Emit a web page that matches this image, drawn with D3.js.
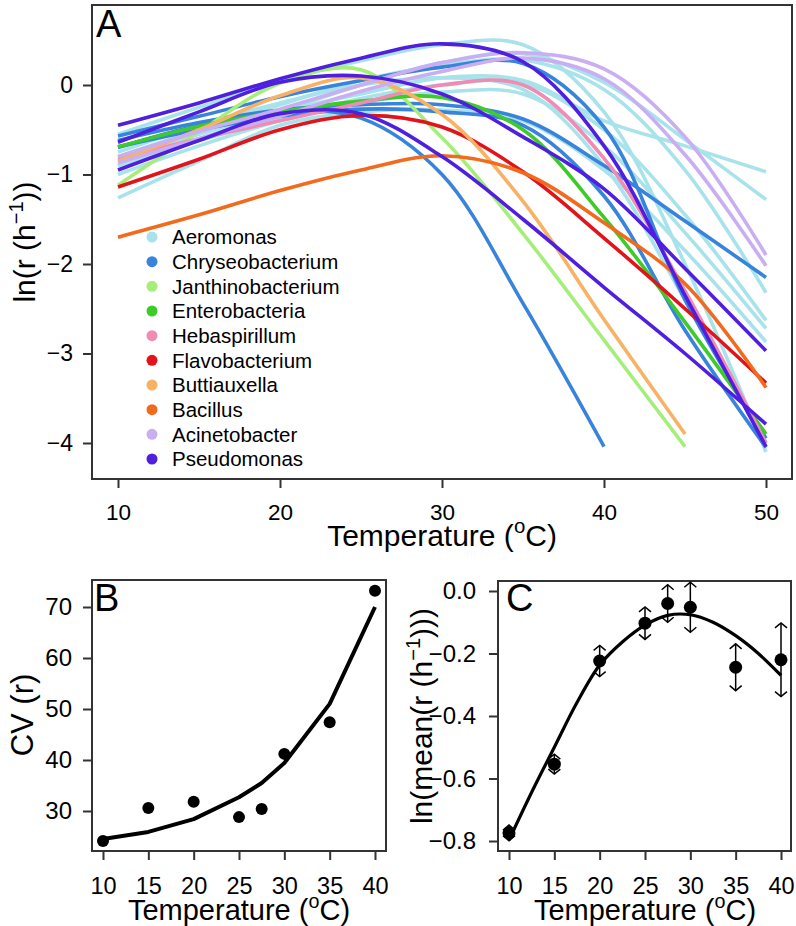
<!DOCTYPE html>
<html><head><meta charset="utf-8">
<script src="https://cdn.jsdelivr.net/npm/d3@7"></script>
<style>html,body{margin:0;padding:0;background:#fff}svg{display:block;font-family:"Liberation Sans",Arial,sans-serif}</style>
</head><body><svg id="c" width="796" height="926"></svg>
<script>
// ---------- Panel A data ----------
const tempA = [10, 15, 20, 25, 30, 35, 40, 45, 50];
const genera = ["Aeromonas","Chryseobacterium","Janthinobacterium","Enterobacteria","Hebaspirillum","Flavobacterium","Buttiauxella","Bacillus","Acinetobacter","Pseudomonas"];
const generaColors = ["#a8e2ea","#3883db","#a6ee7a","#3ccb28","#f08cb4","#e0141a","#f8b266","#f26a1c","#c9aef2","#4f1fe0"];
const aeromonas = [
  [-0.55,-0.25,0.04,0.27,0.45,0.45,-0.3,-2.0,-4.1],
  [-0.85,-0.55,-0.3,-0.1,0.08,0.05,-0.4,-0.68,-0.97],
  [-0.9,-0.6,-0.3,0.0,0.25,0.35,0.03,-0.61,-1.28],
  [-0.8,-0.5,-0.22,0.05,0.22,0.28,-0.05,-0.95,-2.32],
  [-0.9,-0.62,-0.38,-0.15,0.0,0.02,-0.5,-1.45,-2.63],
  [-1.0,-0.68,-0.4,-0.2,-0.08,-0.1,-0.68,-1.65,-2.72],
  [-1.26,-0.85,-0.45,-0.3,-0.28,-0.4,-0.95,-1.85,-2.87],
  [-0.75,-0.45,-0.2,0.0,0.08,-0.05,-0.9,-2.4,-4.0]
];
const chryseobacterium = [
  [-0.7,-0.45,-0.3,-0.37,-1.0,-2.44,-4.04,null,null],
  [-0.62,-0.42,-0.28,-0.22,-0.22,-0.38,-0.9,-1.52,-2.15],
  [-0.57,-0.35,-0.13,0.05,0.2,0.24,-0.47,-2.4,-3.95],
  [-0.69,-0.5,-0.35,-0.27,-0.3,-0.45,-1.24,-2.74,-4.05]
];
const janthinobacterium = [[-1.12,-0.52,0.02,0.17,-0.59,-1.66,-2.85,-4.04,null]];
const enterobacteria = [[-0.69,-0.46,-0.3,-0.18,-0.14,-0.5,-1.48,-2.65,-3.9]];
const hebaspirillum = [[-0.82,-0.6,-0.4,-0.2,0.0,0.0,-0.82,-2.3,-4.0]];
const flavobacterium = [[-1.14,-0.83,-0.5,-0.34,-0.47,-0.97,-1.71,-2.5,-3.33]];
const buttiauxella = [[-0.85,-0.5,-0.12,0.08,-0.33,-1.3,-2.62,-3.9,null]];
const bacillus = [[-1.7,-1.45,-1.18,-0.95,-0.79,-0.98,-1.54,-2.22,-3.38]];
const acinetobacter = [
  [-0.8,-0.52,-0.27,0.0,0.25,0.36,0.18,-0.58,-1.9],
  [-0.87,-0.6,-0.35,-0.07,0.15,0.3,0.07,-0.78,-2.02]
];
const pseudomonas = [
  [-0.45,-0.2,0.07,0.3,0.46,0.26,-0.68,-2.35,-4.04],
  [-0.64,-0.3,0.03,0.1,-0.1,-0.58,-1.16,-2.05,-2.97],
  [-0.95,-0.62,-0.32,-0.32,-0.8,-1.5,-2.26,-3.0,-3.79]
];
const yTicksA = [0, -1, -2, -3, -4];
const xTicksA = [10, 20, 30, 40, 50];

// ---------- Panel B data ----------
const tempBC = [10, 15, 20, 25, 27.5, 30, 35, 40];
const cvObserved = [24.1, 30.6, 31.8, 28.8, 30.4, 41.2, 47.4, 73.2];
const cvPredicted = [24.5, 25.9, 28.4, 32.7, 35.5, 39.4, 51.0, 70.0];
const yTicksB = [30, 40, 50, 60, 70];

// ---------- Panel C data ----------
const lnMean = [-0.774, -0.554, -0.224, -0.103, -0.04, -0.052, -0.244, -0.22];
const lnMeanErr = [0.025, 0.032, 0.05, 0.052, 0.06, 0.08, 0.075, 0.118];
const tempFitC = [10, 12.5, 15, 17.5, 20, 22.5, 25, 27.5, 30, 32.5, 35, 37.5, 40];
const lnMeanFit = [-0.797, -0.644, -0.5, -0.357, -0.237, -0.163, -0.109, -0.078, -0.076, -0.1, -0.143, -0.2, -0.27];
const yTicksC = [0, -0.2, -0.4, -0.6, -0.8];
const xTicksBC = [10, 15, 20, 25, 30, 35, 40];

const svg = d3.select("#c");
const FONT = '"Liberation Sans",Arial,sans-serif';

function frame(x0, y0, x1, y1) {
  svg.append("rect").attr("x", x0).attr("y", y0).attr("width", x1 - x0).attr("height", y1 - y0)
    .attr("fill", "none").attr("stroke", "#333").attr("stroke-width", 2);
}
function styleAxis(g, size) {
  g.select(".domain").attr("stroke", "#333").attr("stroke-width", 2);
  g.selectAll(".tick line").attr("stroke", "#333").attr("stroke-width", 2);
  g.selectAll(".tick text").attr("font-size", size).attr("font-family", FONT).attr("fill", "#000");
}
function tempTitle(x, y, size) {
  const t = svg.append("text").attr("x", x).attr("y", y).attr("text-anchor", "middle")
    .attr("font-size", size).attr("font-family", FONT);
  t.append("tspan").text("Temperature (");
  t.append("tspan").attr("font-size", size * 0.68).attr("dy", -size * 0.42).text("o");
  t.append("tspan").attr("dy", size * 0.42).text("C)");
}

// ---------- Panel A ----------
const xA = d3.scaleLinear().domain([10, 50]).range([118, 766]);
const yA = d3.scaleLinear().domain([-4, 0]).range([443, 85]);
frame(92, 5, 792, 479);
const gxA = svg.append("g").attr("transform", "translate(0,479)")
  .call(d3.axisBottom(xA).tickValues(xTicksA).tickSize(9).tickPadding(16).tickFormat(d3.format("d")));
gxA.select(".domain").remove();
styleAxis(gxA, 22.5);
const gyA = svg.append("g").attr("transform", "translate(92,0)")
  .call(d3.axisLeft(yA).tickValues(yTicksA).tickSize(9).tickPadding(10).tickFormat(d3.format("d")));
gyA.select(".domain").remove();
styleAxis(gyA, 23);

const groups = [aeromonas, chryseobacterium, janthinobacterium, enterobacteria, hebaspirillum,
  flavobacterium, buttiauxella, bacillus, acinetobacter, pseudomonas];
const lineA = d3.line().defined(d => d[1] !== null)
  .x(d => xA(d[0])).y(d => yA(d[1])).curve(d3.curveCatmullRom.alpha(0.5));
groups.forEach((curves, gi) => {
  curves.forEach(vals => {
    svg.append("path").attr("d", lineA(tempA.map((t, i) => [t, vals[i]])))
      .attr("fill", "none").attr("stroke", generaColors[gi]).attr("stroke-width", 3.6)
      .attr("stroke-linecap", "butt");
  });
});
// legend
const legY = d3.scaleLinear().domain([0, genera.length - 1]).range([237, 459]);
genera.forEach((name, i) => {
  svg.append("circle").attr("cx", 152).attr("cy", legY(i)).attr("r", 5.5).attr("fill", generaColors[i]);
  svg.append("text").attr("x", 172).attr("y", legY(i)).attr("dy", "0.36em")
    .attr("font-size", 20.5).attr("font-family", FONT).text(name);
});
svg.append("text").attr("x", 96).attr("y", 37).attr("font-size", 38).attr("font-family", FONT).text("A");
tempTitle(442, 546, 30);
{
  const t = svg.append("text").attr("transform", "translate(35,242) rotate(-90)")
    .attr("text-anchor", "middle").attr("font-size", 30).attr("font-family", FONT);
  t.append("tspan").text("ln(r (h");
  t.append("tspan").attr("font-size", 20).attr("dy", -12).text("\u22121");
  t.append("tspan").attr("dy", 12).text("))");
}

// ---------- Panel B ----------
const xB = d3.scaleLinear().domain([10, 40]).range([103, 375]);
const yB = d3.scaleLinear().domain([30, 70]).range([811, 607]);
frame(92, 580, 386, 851);
const gxB = svg.append("g").attr("transform", "translate(0,851)")
  .call(d3.axisBottom(xB).tickValues(xTicksBC).tickSize(9).tickPadding(17).tickFormat(d3.format("d")));
gxB.select(".domain").remove();
styleAxis(gxB, 23.5);
const gyB = svg.append("g").attr("transform", "translate(92,0)")
  .call(d3.axisLeft(yB).tickValues(yTicksB).tickSize(9).tickPadding(11).tickFormat(d3.format("d")));
gyB.select(".domain").remove();
styleAxis(gyB, 24);
svg.append("path").attr("d", d3.line().x((d, i) => xB(tempBC[i])).y(d => yB(d))(cvPredicted))
  .attr("fill", "none").attr("stroke", "#000").attr("stroke-width", 4).attr("stroke-linejoin", "round");
cvObserved.forEach((v, i) => {
  svg.append("circle").attr("cx", xB(tempBC[i])).attr("cy", yB(v)).attr("r", 6).attr("fill", "#000");
});
svg.append("text").attr("x", 94).attr("y", 611).attr("font-size", 38).attr("font-family", FONT).text("B");
tempTitle(239, 920, 29);
svg.append("text").attr("transform", "translate(33,715) rotate(-90)").attr("text-anchor", "middle")
  .attr("font-size", 31).attr("font-family", FONT).text("CV (r)");

// ---------- Panel C ----------
const xC = d3.scaleLinear().domain([10, 40]).range([509, 781]);
const yC = d3.scaleLinear().domain([-0.8, 0]).range([841, 591]);
frame(498, 581, 791, 851);
const gxC = svg.append("g").attr("transform", "translate(0,851)")
  .call(d3.axisBottom(xC).tickValues(xTicksBC).tickSize(9).tickPadding(17).tickFormat(d3.format("d")));
gxC.select(".domain").remove();
styleAxis(gxC, 23.5);
const gyC = svg.append("g").attr("transform", "translate(498,0)")
  .call(d3.axisLeft(yC).tickValues(yTicksC).tickSize(9).tickPadding(13).tickFormat(d3.format(".1f")));
gyC.select(".domain").remove();
styleAxis(gyC, 24);
svg.append("path").attr("d", d3.line().x((d, i) => xC(tempFitC[i])).y(d => yC(d)).curve(d3.curveCatmullRom.alpha(0.5))(lnMeanFit))
  .attr("fill", "none").attr("stroke", "#000").attr("stroke-width", 3.2);
lnMean.forEach((m, i) => {
  const cx = xC(tempBC[i]);
  [1, -1].forEach(s => {
    const yEnd = yC(m + s * lnMeanErr[i]);
    svg.append("line").attr("x1", cx).attr("x2", cx).attr("y1", yC(m)).attr("y2", yEnd)
      .attr("stroke", "#000").attr("stroke-width", 1.5);
    svg.append("path").attr("d", `M${cx - 6},${yEnd + s * 5}L${cx},${yEnd}L${cx + 6},${yEnd + s * 5}`)
      .attr("fill", "none").attr("stroke", "#000").attr("stroke-width", 1.5);
  });
  svg.append("circle").attr("cx", cx).attr("cy", yC(m)).attr("r", 6.5).attr("fill", "#000");
});
svg.append("text").attr("x", 506).attr("y", 611).attr("font-size", 38).attr("font-family", FONT).text("C");
tempTitle(645, 920, 29);
{
  const t = svg.append("text").attr("transform", "translate(432,716) rotate(-90)")
    .attr("text-anchor", "middle").attr("font-size", 30).attr("font-family", FONT);
  t.append("tspan").text("ln(mean(r (h");
  t.append("tspan").attr("font-size", 20).attr("dy", -12).text("\u22121");
  t.append("tspan").attr("dy", 12).text(")))");
}
</script>
</body></html>
